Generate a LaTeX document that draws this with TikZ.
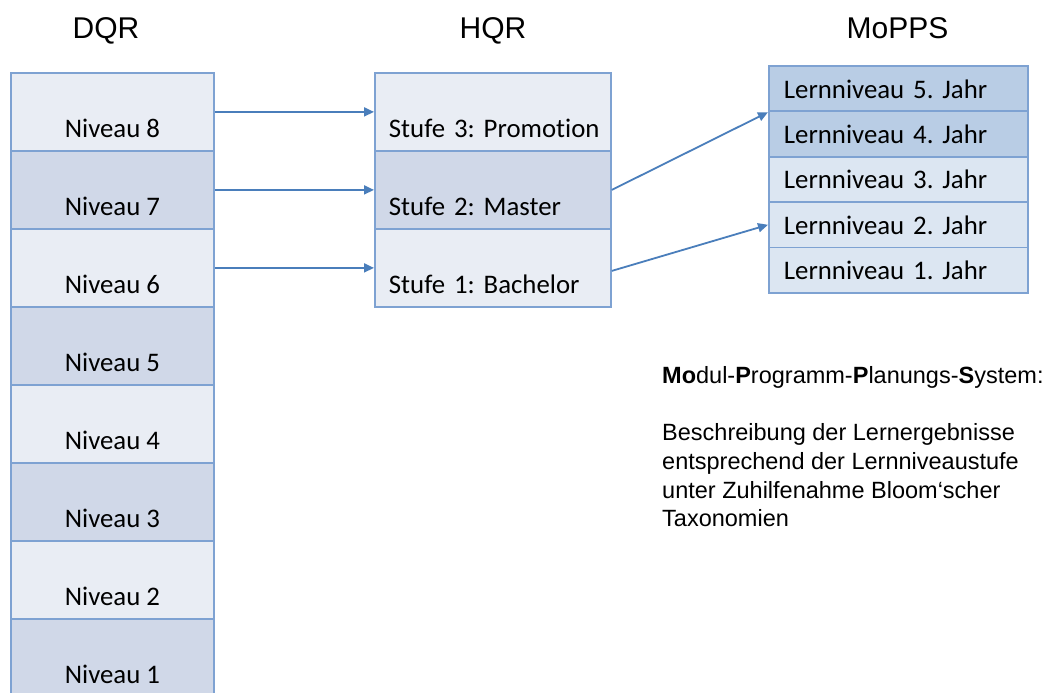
\documentclass[tikz,border=0pt]{standalone}
\usepackage{fontspec}
\setmainfont{Carlito}[Ligatures=NoCommon]
\newfontfamily\arialf{Liberation Sans}
\usetikzlibrary{arrows.meta}
\frenchspacing
\definecolor{rowlight}{HTML}{E9EDF4}
\definecolor{rowdark}{HTML}{D0D8E8}
\definecolor{mopdark}{HTML}{B9CDE5}
\definecolor{moplight}{HTML}{DCE6F2}
\definecolor{rowborder}{HTML}{7EA2D2}
\definecolor{arrowc}{HTML}{4A7EBB}
\begin{document}
\begin{tikzpicture}[x=1pt,y=-1pt,
  dqrrow/.style={draw=rowborder, line width=1.8pt, minimum width=203pt, minimum height=78pt,
    inner sep=0pt, text height=52pt, text depth=0pt, font=\frenchspacing\fontsize{26.8}{31}\selectfont, anchor=north west},
  hqrrow/.style={draw=rowborder, line width=1.8pt, minimum width=236pt, minimum height=78pt,
    inner ysep=0pt, inner xsep=1pt, text width=234pt, align=left,
    text height=52pt, text depth=0pt, font=\frenchspacing\fontsize{26.8}{31}\selectfont, anchor=north west},
  moprow/.style={draw=rowborder, line width=1.8pt, minimum width=259pt, minimum height=45.4pt,
    inner ysep=0pt, inner xsep=1pt, text width=257pt, align=left,
    text height=19pt, text depth=0pt, font=\frenchspacing\fontsize{26.8}{31}\selectfont, anchor=north west},
  header/.style={font=\arialf\fontsize{30}{36}\selectfont, anchor=base, inner sep=0pt},
  conn/.style={draw=arrowc, line width=1.8pt, -{Triangle[length=10pt,width=9pt]}}
]
\fill[white] (0,0) rectangle (1050,693);
\useasboundingbox (0,0) rectangle (1050,693);
\clip (0,0) rectangle (1050,693);

% headers
\node[header] (hdqr) at (106,39) {DQR};
\node[header] (hhqr) at (493,39) {HQR};
\node[header] (hmop) at (897.5,39) {MoPPS};

% DQR column
\node[dqrrow, fill=rowlight] (d8) at (10,72)  {Niveau 8};
\node[dqrrow, fill=rowdark]  (d7) at (10,150) {Niveau 7};
\node[dqrrow, fill=rowlight] (d6) at (10,228) {Niveau 6};
\node[dqrrow, fill=rowdark]  (d5) at (10,306) {Niveau 5};
\node[dqrrow, fill=rowlight] (d4) at (10,384) {Niveau 4};
\node[dqrrow, fill=rowdark]  (d3) at (10,462) {Niveau 3};
\node[dqrrow, fill=rowlight] (d2) at (10,540) {Niveau 2};
\node[dqrrow, fill=rowdark]  (d1) at (10,618) {Niveau 1};

% HQR column
\node[hqrrow, fill=rowlight] (h3) at (374,72)  {\hspace*{13pt}Stufe 3: Promotion};
\node[hqrrow, fill=rowdark]  (h2) at (374,150) {\hspace*{13pt}Stufe 2: Master};
\node[hqrrow, fill=rowlight] (h1) at (374,228) {\hspace*{13pt}Stufe 1: Bachelor};

% MoPPS column
\node[moprow, fill=mopdark]  (m5) at (768,65)    {\hspace*{14pt}Lernniveau 5. Jahr};
\node[moprow, fill=mopdark]  (m4) at (768,110.4) {\hspace*{14pt}Lernniveau 4. Jahr};
\node[moprow, fill=moplight] (m3) at (768,155.8) {\hspace*{14pt}Lernniveau 3. Jahr};
\node[moprow, fill=moplight] (m2) at (768,201.2) {\hspace*{14pt}Lernniveau 2. Jahr};
\node[moprow, fill=moplight] (m1) at (768,246.6) {\hspace*{14pt}Lernniveau 1. Jahr};

% connectors
\draw[conn] (d8.east) -- (h3.west);
\draw[conn] (d7.east) -- (h2.west);
\draw[conn] (d6.east) -- (h1.west);
\draw[conn] (h2.east) -- (m5.south west);
\draw[conn] ([yshift=-3pt]h1.east) -- (m2.west);

% description
\node[font=\arialf\fontsize{23.5}{28.7}\selectfont, align=left, anchor=north west, inner sep=0pt] (desc) at (662,366)
{\textbf{Mo}dul-\textbf{P}rogramm-\textbf{P}lanungs-\textbf{S}ystem:\\[28.7pt]
Beschreibung der Lernergebnisse\\
entsprechend der Lernniveaustufe\\
unter Zuhilfenahme Bloom‘scher\\
Taxonomien};
\end{tikzpicture}
\end{document}
